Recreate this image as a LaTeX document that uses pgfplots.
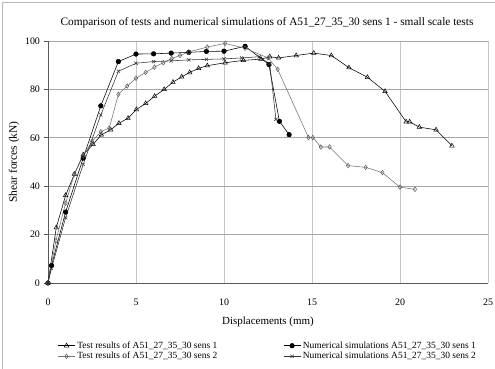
\documentclass[border=0pt]{standalone}
\usepackage{pgfplots}
\pgfplotsset{compat=1.18}
\usepackage{fontspec}
\setmainfont{Liberation Serif}
\begin{document}
\begin{tikzpicture}
\useasboundingbox (0,0) rectangle (495bp,369bp);
\draw[gray!55, line width=0.7bp] (2bp,0) -- (2bp,367bp) -- (495bp,367bp);
\node[font=\fontsize{11.4}{13}\selectfont] at (267bp,346bp) {Comparison of tests and numerical simulations of A51\_27\_35\_30 sens 1 - small scale tests};
\begin{axis}[
  at={(48bp,86bp)}, anchor=south west,
  width=440bp, height=242bp, scale only axis,
  xmin=0, xmax=25, ymin=0, ymax=100,
  xtick={0,5,...,25}, ytick={0,20,...,100},
  axis lines=left, axis line style={-, black!65, line width=0.8bp},
  grid=major,
  x grid style={gray!45, line width=0.7bp},
  y grid style={gray!70, line width=0.7bp},
  tick align=outside, major tick length=3.5bp,
  xtick style={draw=none}, ytick style={black!65, line width=0.7bp},
  ticklabel style={font=\fontsize{10}{11}\selectfont},
  /pgf/number format/assume math mode=true,
  xticklabel style={yshift=-9bp},
  yticklabel style={xshift=-1bp},
  xlabel={Displacements (mm)},
  ylabel={Shear forces (kN)},
  xlabel style={font=\fontsize{11}{13}\selectfont, at={(axis description cs:0.5,0)}, anchor=center, yshift=-39bp},
  ylabel style={font=\fontsize{11.5}{13}\selectfont, at={(axis description cs:-0.077,0.5)}, anchor=center},
  legend columns=2,
  legend cell align=left,
  legend style={at={(axis description cs:0.015,-0.225)}, anchor=north west,
    draw=none, fill=none, font=\fontsize{9.5}{11}\selectfont,
    /tikz/every even column/.append style={column sep=64bp},
    row sep=-1.5bp},
  every axis plot/.append style={line width=0.55bp},
]
\addplot[black, mark=triangle, mark size=2.6bp, mark options={fill=white, line width=0.5bp}] coordinates {
(0,0) (0.47,22.9) (1.0,36.2) (1.5,45) (2.0,53) (2.56,57.3) (3.03,61.2) (3.56,63.3)
(4.03,66) (4.55,68.1) (5.02,71.7) (5.55,74.2) (6.06,77.2) (6.6,80) (7.1,83) (7.6,85.2)
(8.05,87) (8.56,88.7) (9.05,89.8) (10.06,91) (11.1,92) (12.1,92.5) (12.6,93.5) (13.1,93)
(14.1,94) (15.1,95) (16.1,94) (17.1,89) (18.15,85) (19.15,79.2) (20.35,66.6) (20.55,66.6)
(21.1,64.4) (22.05,63.3) (22.95,56.7)};
\addlegendentry{Test results of A51\_27\_35\_30 sens 1}
\addplot[black, mark=*, mark size=2.3bp] coordinates {
(0,0) (0.2,7.2) (1.0,29.3) (2.0,51.6) (3.0,73.2) (4.0,91.5) (5.0,94.6) (6.0,94.7)
(7.0,95) (8.0,95.3) (9.0,95.7) (10.0,95.8) (11.2,97.8) (12.55,90.3) (13.15,66.8) (13.7,61.3)};
\addlegendentry{Numerical simulations A51\_27\_35\_30 sens 1}
\addplot[black!55, mark=diamond, mark size=2.3bp, mark options={fill=white, draw=black!65, line width=0.5bp}] coordinates {
(0,0) (0.45,17.5) (1.0,33) (1.5,45) (2.0,52.5) (2.5,58.5) (3.0,62.5) (3.48,64)
(4.0,78) (4.5,81.4) (5.0,84.6) (5.55,87) (6.05,89.2) (6.55,91) (7.03,92.8) (7.5,94)
(8.0,95.5) (9.05,97.5) (10.06,99) (11.2,97) (12.5,93) (13.05,88.3) (14.8,60.1) (15.05,60.1)
(15.5,56.2) (16.0,56.2) (17.05,48.5) (18.05,47.8) (19.0,45.6) (20.0,39.6) (20.85,38.7)};
\addlegendentry{Test results of A51\_27\_35\_30 sens 2}
\addplot[black!80, mark=x, mark size=2.3bp, mark options={line width=0.5bp}] coordinates {
(0,0) (0.2,6) (1.0,27) (2.0,49) (3.0,69.5) (4.0,87.5) (5.0,90.8) (6.0,91.5)
(7.0,91.8) (8.0,92.2) (9.0,92.4) (10.0,92.6) (11.0,93) (12.0,93.5) (12.6,90.5) (12.95,67.6)};
\addlegendentry{Numerical simulations A51\_27\_35\_30 sens 2}
\end{axis}
\end{tikzpicture}
\end{document}
